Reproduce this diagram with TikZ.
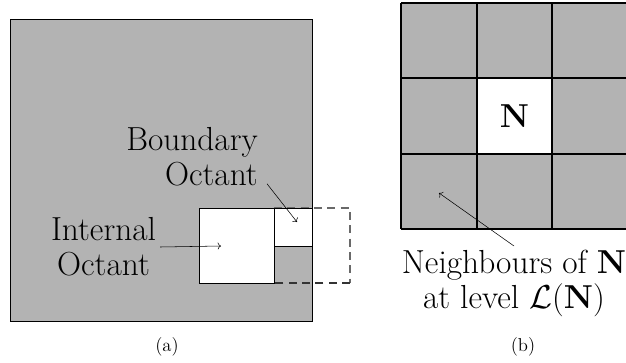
\documentclass[tikz,border=0pt]{standalone}
\usepackage{amsmath,amssymb}
\usepackage{tikz}
\usetikzlibrary{arrows.meta,positioning}
\definecolor{octGray}{RGB}{179,179,179}
\definecolor{octDash}{RGB}{105,105,105}
\newcommand{\lblfont}{\fontsize{25}{26}\selectfont}
\newcommand{\capfont}{\fontsize{14}{17}\selectfont}

\begin{document}
\begin{tikzpicture}[x=0.75pt,y=-0.75pt]
\useasboundingbox (0,0) rectangle (626,362);

% left: domain with internal and boundary octants
\fill[octGray] (10,19) rectangle (312,321);
\draw[line width=0.6pt] (10,19) rectangle (312,321);
\draw[octDash, dash pattern=on 6pt off 4pt, line width=0.8pt] (274,208) -- (350,208) -- (350,283);
\draw[black!80, dash pattern=on 6pt off 4pt, line width=0.8pt] (350,283) -- (274,283);
\fill[white] (199,208) rectangle (274,283);
\fill[white] (274,208) rectangle (312,246);
\draw[line width=0.6pt] (199,208) rectangle (274,283);
\draw[line width=0.6pt] (274,208) rectangle (312,246);
\coordinate (intTip) at (221,246);
\coordinate (bndTip) at (297,222);
\node[font=\lblfont, align=center, inner sep=3pt] (intLbl) at (103.5,247) {Internal\\Octant};
\node[font=\lblfont, align=right, inner sep=3pt, anchor=east] (bndLbl) at (262,157) {Boundary\\Octant};
\draw[->] ([xshift=3.75pt,yshift=5pt]bndLbl.south east) -- (bndTip);
\draw[->] (intLbl.east) -- (intTip);
\node[font=\capfont] (capA) at (167,347) {(a)};

% right: neighbours of N on one level
\foreach \i in {0,1,2}{
  \foreach \j in {0,1,2}{
    \fill[octGray] (401+75.6*\i,3+75.4*\j) rectangle ++(75.6,75.4);
  }
}
\fill[white] (476.6,78.4) rectangle ++(75.6,75.4);
\foreach \i in {0,1,2,3}{
  \draw[line width=1.4pt] (401+75.6*\i,3) -- ++(0,226.2);
  \draw[line width=1.4pt] (401,3+75.4*\i) -- ++(240,0);
}
\node[font=\lblfont] (nCell) at (514.4,116.1) {$\mathbf{N}$};
\coordinate (nbrTip) at (439,193);
\node[font=\lblfont, align=center, inner sep=3pt, anchor=north] (nbrLbl) at (514,246) {Neighbours of $\mathbf{N}$\\at level $\mathcal{L}(\mathbf{N})$};
\draw[->] (nbrLbl.north) -- (nbrTip);
\node[font=\capfont] (capB) at (523,347) {(b)};
\end{tikzpicture}
\end{document}
